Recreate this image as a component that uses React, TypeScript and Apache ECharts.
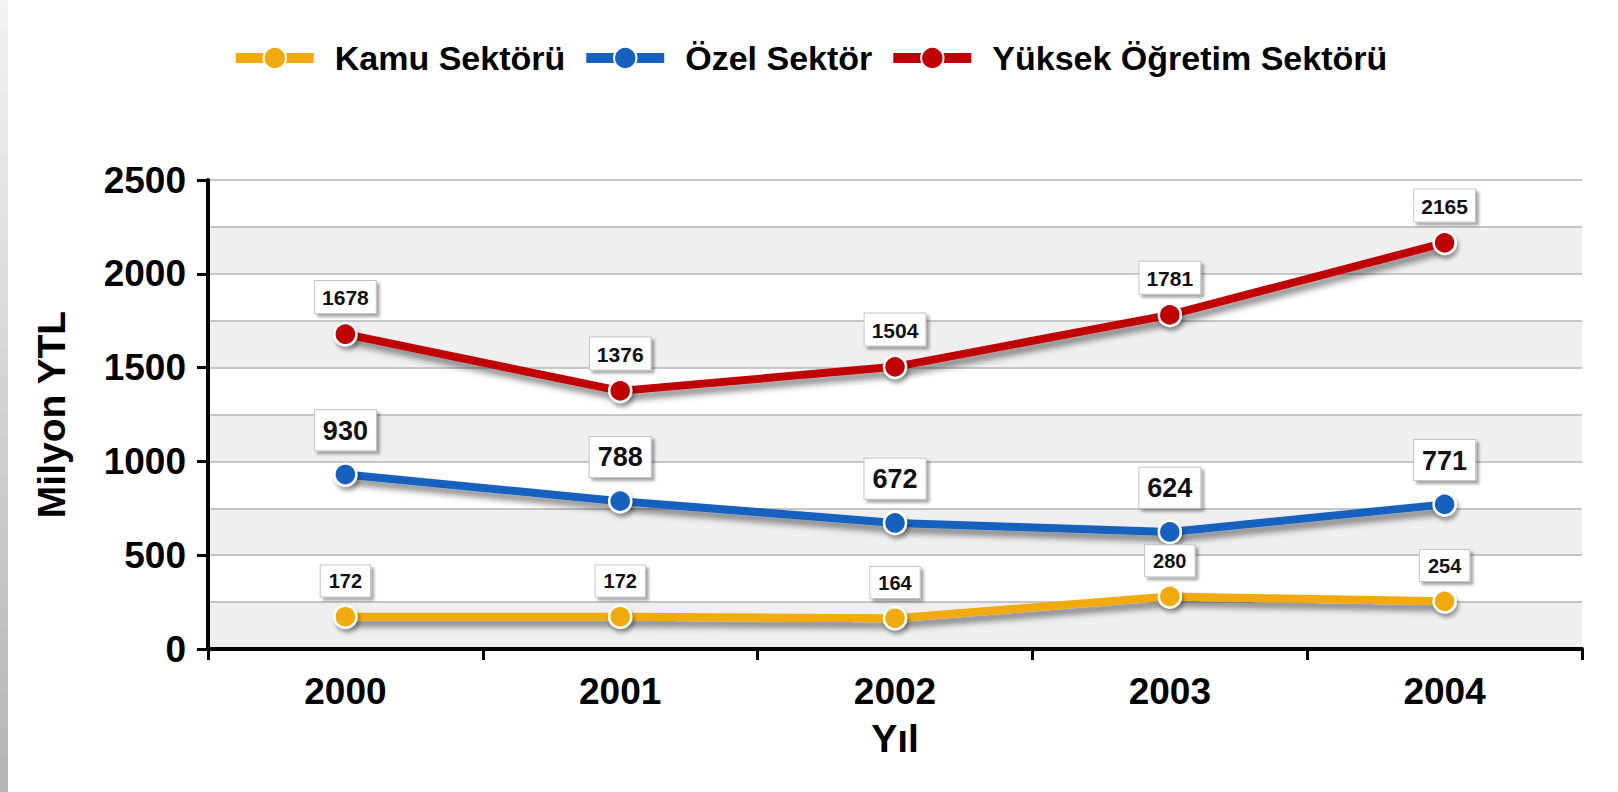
import React, { useEffect, useRef } from "react";
import * as echarts from "echarts";

const years = ["2000", "2001", "2002", "2003", "2004"];
const kamu = [172, 172, 164, 280, 254];
const ozel = [930, 788, 672, 624, 771];
const yuksek = [1678, 1376, 1504, 1781, 2165];
const seriesNames = ["Kamu Sektörü", "Özel Sektör", "Yüksek Öğretim Sektörü"];
const seriesColors = ["#f0aa10", "#1561be", "#c00000"];

const FONT = "'Liberation Sans', Arial, Helvetica, sans-serif";

function makeSeries(name: string, data: number[], color: string, fontSize: number, pad: number[], dist: number) {
  return {
    name,
    type: "line",
    yAxisIndex: 1,
    data,
    symbol: "circle",
    symbolSize: 22,
    lineStyle: {
      color,
      width: 8,
      shadowColor: "rgba(0,0,0,0.45)",
      shadowBlur: 6,
      shadowOffsetX: 3,
      shadowOffsetY: 6,
    },
    itemStyle: {
      color,
      borderColor: "#ffffff",
      borderWidth: 2.5,
      shadowColor: "rgba(0,0,0,0.35)",
      shadowBlur: 4,
      shadowOffsetX: 2,
      shadowOffsetY: 4,
    },
    label: {
      show: true,
      position: "top",
      distance: dist,
      fontFamily: FONT,
      fontWeight: "bold",
      fontSize,
      color: "#111",
      backgroundColor: "#ffffff",
      borderColor: "#c4c4c4",
      borderWidth: 1,
      padding: pad,
      shadowColor: "rgba(0,0,0,0.35)",
      shadowBlur: 3,
      shadowOffsetX: 3,
      shadowOffsetY: 3,
    },
  };
}

export default function App() {
  const ref = useRef<HTMLDivElement>(null);
  useEffect(() => {
    if (!ref.current) return;
    const chart = echarts.init(ref.current, undefined, { renderer: "svg" });
    chart.setOption({
      animation: false,
      backgroundColor: "#ffffff",
      color: seriesColors,
      graphic: [
        {
          type: "rect",
          shape: { x: 0, y: 0, width: 8, height: 792 },
          style: {
            fill: new echarts.graphic.LinearGradient(0, 0, 0, 1, [
              { offset: 0, color: "#f2f2f2" },
              { offset: 1, color: "#b4b4b4" },
            ]),
          },
          silent: true,
        },
      ],
      legend: {
        top: 36,
        left: "center",
        itemWidth: 78,
        itemHeight: 28,
        itemGap: 16,
        data: seriesNames.map((n, i) => ({
          name: n,
          lineStyle: { color: seriesColors[i], width: 10 },
          itemStyle: { color: seriesColors[i], borderColor: "#ffffff", borderWidth: 2 },
        })),
        textStyle: {
          fontFamily: FONT,
          fontWeight: "bold",
          fontSize: 34,
          color: "#000",
          padding: [0, 0, 0, 16],
        },
      },
      grid: { left: 208, right: 36, top: 180, bottom: 143, containLabel: false },
      xAxis: {
        type: "category",
        data: years,
        boundaryGap: true,
        name: "Yıl",
        nameLocation: "middle",
        nameGap: 70,
        nameTextStyle: { fontFamily: FONT, fontWeight: "bold", fontSize: 39, color: "#000" },
        axisLine: { show: true, lineStyle: { color: "#000", width: 4 } },
        axisTick: { show: true, length: 11, lineStyle: { color: "#000", width: 3 } },
        axisLabel: { fontFamily: FONT, fontWeight: "bold", fontSize: 37, color: "#000", margin: 24 },
        splitLine: { show: false },
      },
      yAxis: [
        {
          type: "value",
          position: "left",
          min: 0,
          max: 2500,
          interval: 250,
          axisLine: { show: false },
          axisTick: { show: false },
          axisLabel: { show: false },
          splitLine: { show: true, lineStyle: { color: "#b4b4b4", width: 1.5 } },
          splitArea: { show: true, areaStyle: { color: ["#efefef", "#ffffff"] } },
        },
        {
          type: "value",
          position: "left",
          min: 0,
          max: 2500,
          interval: 500,
          name: "Milyon YTL",
          nameLocation: "middle",
          nameGap: 137,
          nameTextStyle: { fontFamily: FONT, fontWeight: "bold", fontSize: 39, color: "#000" },
          axisLine: { show: true, lineStyle: { color: "#000", width: 4 } },
          axisTick: { show: true, length: 11, lineStyle: { color: "#000", width: 3 } },
          axisLabel: {
            fontFamily: FONT,
            fontWeight: "bold",
            fontSize: 37,
            color: "#000",
            margin: 22,
            formatter: (v: number) => String(v),
          },
          splitLine: { show: false },
          splitArea: { show: false },
        },
      ],
      series: [
        makeSeries(seriesNames[0], kamu, seriesColors[0], 20, [6, 8, 5, 8], 8),
        makeSeries(seriesNames[1], ozel, seriesColors[1], 27, [7, 8, 6, 8], 12),
        makeSeries(seriesNames[2], yuksek, seriesColors[2], 21, [6, 7, 5, 7], 9),
      ],
    });
    return () => chart.dispose();
  }, []);
  return (
    <div
      ref={ref}
      style={{ position: "absolute", left: 0, top: 0, width: 1618, height: 792 }}
    />
  );
}
